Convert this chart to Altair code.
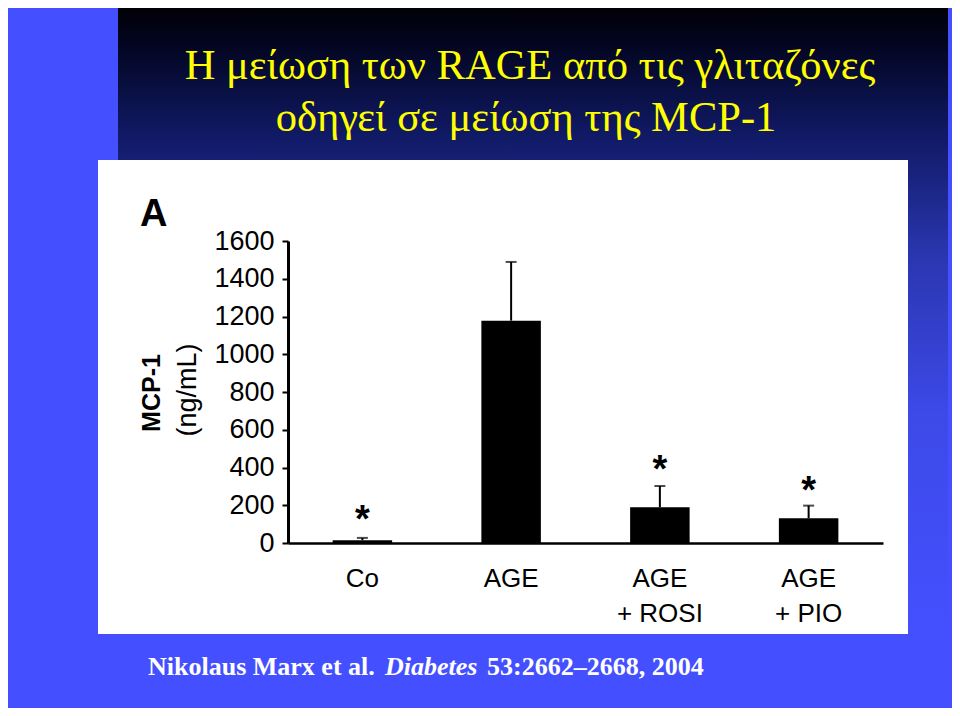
import altair as alt
import pandas as pd

# ---- data ----
groups = ["Co", "AGE", "AGE + ROSI", "AGE + PIO"]
means = [15, 1178, 189, 131]          # MCP-1 (ng/mL)
err_tops = [27, 1489, 302, 198]       # mean + SD
star_groups = ["Co", "AGE + ROSI", "AGE + PIO"]
star_heights = [162, 429, 318]        # where the significance asterisks sit
y_ticks = [0, 200, 400, 600, 800, 1000, 1200, 1400, 1600]

title_line1 = "Η μείωση των RAGE από τις γλιταζόνες"
title_line2 = "οδηγεί σε μείωση της MCP-1"
cite_a = "Nikolaus Marx et al."
cite_b = "Diabetes"
cite_c = "53:2662–2668, 2004"

df = pd.DataFrame({"group": groups, "mean": means, "top": err_tops})
stars = pd.DataFrame({"group": star_groups, "star_y": star_heights})
one = pd.DataFrame({"k": [0]})

x_enc = alt.X(
    "group:N",
    sort=groups,
    scale=alt.Scale(paddingInner=0.6, paddingOuter=0.3),
    axis=alt.Axis(
        title="",
        labelAngle=0,
        labelFont="Liberation Sans",
        labelFontSize=26,
        labelColor="black",
        labelLineHeight=35,
        labelPadding=22,
        labelExpr="split(replace(datum.label, ' + ', '|+ '), '|')",
        ticks=False,
        tickSize=0,
        domainColor="black",
        domainWidth=2.5,
        grid=False,
        zindex=1,
    ),
)
y_scale = alt.Scale(domain=[0, 1600], nice=False)
y_axis = alt.Axis(
    title="",
    values=y_ticks,
    format="d",
    labelFont="Liberation Sans",
    labelFontSize=27,
    labelColor="black",
    labelPadding=8,
    tickSize=6,
    tickWidth=2,
    tickColor="black",
    domainColor="black",
    domainWidth=3,
    grid=False,
    zindex=1,
)

# ---- slide decoration ----
grad = alt.LinearGradient(
    gradient="linear",
    x1=0, x2=0, y1=0, y2=1,
    stops=[
        alt.GradientStop(color="#000000", offset=0),
        alt.GradientStop(color="#02041c", offset=0.06),
        alt.GradientStop(color="#0f1860", offset=0.2),
        alt.GradientStop(color="#2a36b0", offset=0.4),
        alt.GradientStop(color="#3d4ae8", offset=0.65),
        alt.GradientStop(color="#4450FF", offset=1),
    ],
)
panel = alt.Chart(one).mark_rect(fill=grad).encode(
    x=alt.value(-170), x2=alt.value(660), y=alt.value(-241), y2=alt.value(399)
)
white_box = alt.Chart(one).mark_rect(fill="white").encode(
    x=alt.value(-190), x2=alt.value(620), y=alt.value(-81), y2=alt.value(393)
)

def label(text, x, y, **kw):
    return alt.Chart(one).mark_text(text=text, **kw).encode(
        x=alt.value(x), y=alt.value(y)
    )

t1 = label(title_line1, 242, -162, font="Liberation Serif", fontSize=42.5,
           color="#FFFF00", align="center", baseline="alphabetic")
t2 = label(title_line2, 238, -110, font="Liberation Serif", fontSize=42.5,
           color="#FFFF00", align="center", baseline="alphabetic")
panel_a = label("A", -148, -15, font="Liberation Sans", fontSize=38,
                fontWeight="bold", color="black", align="left", baseline="alphabetic")
ytitle1 = label("MCP-1", -136, 152, font="Liberation Sans", fontSize=25,
                fontWeight="bold", color="black", angle=270, align="center",
                baseline="middle")
ytitle2 = label("(ng/mL)", -100, 149, font="Liberation Sans", fontSize=27,
                color="black", angle=270, align="center", baseline="middle")
c1 = label(cite_a, -140, 434, font="Liberation Serif", fontSize=26,
           fontWeight="bold", color="white", align="left", baseline="alphabetic")
c2 = label(cite_b, 97, 434, font="Liberation Serif", fontSize=26,
           fontWeight="bold", fontStyle="italic", color="white", align="left",
           baseline="alphabetic")
c3 = label(cite_c, 199, 434, font="Liberation Serif", fontSize=26,
           fontWeight="bold", color="white", align="left", baseline="alphabetic")

# ---- data marks ----
bars = alt.Chart(df).mark_bar(color="black").encode(
    x=x_enc, y=alt.Y("mean:Q", scale=y_scale, axis=y_axis)
)
err = alt.Chart(df).mark_rule(color="black", strokeWidth=2).encode(
    x=x_enc, y=alt.Y("mean:Q", scale=y_scale, axis=y_axis), y2="top:Q"
)
caps = alt.Chart(df).mark_tick(color="black", size=11, thickness=2).encode(
    x=x_enc, y=alt.Y("top:Q", scale=y_scale, axis=y_axis)
)
star_marks = alt.Chart(stars).mark_text(
    text="*", font="Liberation Sans", fontSize=38, fontWeight="bold",
    color="black", baseline="middle", dy=9
).encode(x=x_enc, y=alt.Y("star_y:Q", scale=y_scale, axis=y_axis))

chart = alt.layer(
    panel, white_box, bars, err, caps, star_marks,
    t1, t2, panel_a, ytitle1, ytitle2, c1, c2, c3,
).properties(
    width=595,
    height=302,
    padding={"left": 280, "top": 233, "right": 69, "bottom": 165},
    autosize=alt.AutoSizeParams(type="none"),
    background="#4450FF",
).configure_view(strokeWidth=0)

chart.save("out.html", embed_options={"renderer": "svg", "actions": False})
